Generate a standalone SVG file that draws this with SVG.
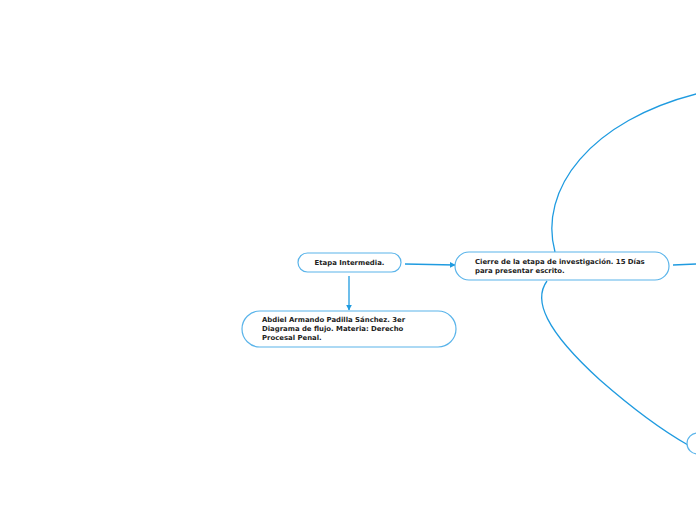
<svg xmlns="http://www.w3.org/2000/svg" width="696" height="520" viewBox="0 0 696 520">
<defs>
<style>
.node{fill:#fff;stroke:#5ab4ea;stroke-width:1.2}
.t{font-family:"DejaVu Sans",Verdana,sans-serif;font-weight:bold;font-size:6.9px;fill:#222}
.c{fill:none;stroke:#1f9be0;stroke-width:1.3}
</style>
<marker id="ah" viewBox="0 0 10 10" refX="9" refY="5" markerWidth="6" markerHeight="6" orient="auto" markerUnits="userSpaceOnUse">
<path d="M0,0 L10,5 L0,10 z" fill="#1f9be0"/>
</marker>
</defs>
<rect width="696" height="520" fill="#fff"/>
<g id="connectors">
<path class="c" d="M405,264 L455,265" marker-end="url(#ah)"/>
<path class="c" d="M349,276 L349,310" marker-end="url(#ah)"/>
<path class="c" d="M673,265 L696,264"/>
<path class="c" d="M555,252 C538,190 590,120 700,93"/>
<path class="c" d="M547,281 C533,300 545,330 600,380 C640,415 665,432 688,445"/>
</g>
<g id="n-etapa">
<rect class="node" x="298" y="253" width="103" height="19" rx="9.5"/>
<text class="t" x="349.5" y="265" text-anchor="middle">Etapa Intermedia.</text>
</g>
<g id="n-abdiel">
<rect class="node" x="242" y="311" width="214" height="36" rx="18"/>
<text class="t" x="262" y="322">Abdiel Armando Padilla Sánchez. 3er</text>
<text class="t" x="262" y="331">Diagrama de flujo. Materia: Derecho</text>
<text class="t" x="262" y="340">Procesal Penal.</text>
</g>
<g id="n-cierre">
<rect class="node" x="455" y="252" width="214" height="28" rx="14"/>
<text class="t" x="475" y="264">Cierre de la etapa de investigación. 15 Días</text>
<text class="t" x="475" y="273">para presentar escrito.</text>
</g>
<g id="n-small">
<rect class="node" x="687" y="433" width="24" height="21" rx="10.5"/>
</g>
</svg>
